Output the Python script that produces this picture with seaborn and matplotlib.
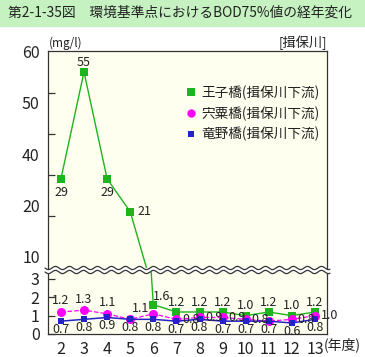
import numpy as np
import pandas as pd
import matplotlib
matplotlib.use("Agg")
import matplotlib.pyplot as plt
import seaborn as sns
from matplotlib.lines import Line2D
from matplotlib.patches import Polygon

# Data
years = [2, 3, 4, 5, 6, 7, 8, 9, 10, 11, 12, 13]
oji = [29, 55, 29, 21, 1.6, 1.2, 1.2, 1.2, 1.0, 1.2, 1.0, 1.2]
shiso = [1.2, 1.3, 1.1, 0.8, 1.1, 0.8, 0.9, 0.9, 0.8, 0.7, 0.8, 1.0]
tatsuno = [0.7, 0.8, 0.9, 0.8, 0.8, 0.7, 0.8, 0.7, 0.7, 0.7, 0.6, 0.8]
series_names = ["王子橋(揖保川下流)", "宍粟橋(揖保川下流)", "竜野橋(揖保川下流)"]
upper_ticklabels = ["10", "20", "40", "50", "60"]

sns.set_theme(style="white")
plt.rcParams['font.family'] = ['Noto Sans CJK JP', 'DejaVu Sans']
jp = ['Noto Sans CJK JP', 'DejaVu Sans']

df = pd.DataFrame({"year": years, "oji": oji, "shiso": shiso, "tatsuno": tatsuno})

W, H = 365, 357
fig = plt.figure(figsize=(W / 100, H / 100), dpi=100)

def fx(px):
    return px / W

def fy(py):
    return 1 - py / H

# title band
fig.patches.append(plt.Rectangle((0, fy(26)), 1, 1 - fy(26), transform=fig.transFigure,
                                 color='#c6f2c2', zorder=0))
title = fig.text(fx(8), fy(13), "第2-1-35図　環境基準点におけるBOD75%値の経年変化",
                 family=jp, fontsize=10, va='center', ha='left', color='#222222')
# scale title so it spans roughly x=8..352 like the source
renderer = fig.canvas.get_renderer()
tw = title.get_window_extent(renderer).width
title.set_fontsize(10 * 344 / tw)

left, right = 48, 327
ax_top = fig.add_axes([fx(left), fy(268), fx(right - left), fy(51) - fy(268)])
ax_bot = fig.add_axes([fx(left), fy(334), fx(right - left), fy(272) - fy(334)])

bg = '#fffff0'
green = '#1eb41e'
magenta = '#ff00ff'
blue = '#2323c8'

for ax in (ax_top, ax_bot):
    ax.set_facecolor(bg)
    sns.lineplot(data=df, x="year", y="oji", ax=ax, color=green, marker='s',
                 markersize=6, markeredgewidth=0, linewidth=1.0, zorder=3)
    sns.lineplot(data=df, x="year", y="shiso", ax=ax, color=magenta, marker='o',
                 markersize=6.5, markeredgewidth=0, linewidth=0.9, linestyle='--', zorder=4)
    sns.lineplot(data=df, x="year", y="tatsuno", ax=ax, color=blue, marker='s',
                 markersize=4.5, markeredgewidth=0, linewidth=1.1, zorder=5)
    ax.set_xlim(1.44, 13.52)
    ax.set_xlabel("")
    ax.set_ylabel("")
    for s in ax.spines.values():
        s.set_color('#333333')
        s.set_linewidth(0.9)

ax_top.set_ylim(7.3, 60.1)
ax_bot.set_ylim(0, 3.38)
ax_top.spines['bottom'].set_visible(False)
ax_bot.spines['top'].set_visible(False)
ax_top.set_xticks([])

# upper axis: tick marks at every 10, labels spaced as in the source
ax_top.set_yticks([10, 20, 30, 40, 50, 60], minor=True)
ax_top.tick_params(axis='y', which='minor', direction='in', length=5, width=0.9, color='#333333', left=True)
ax_top.set_yticks([10, 22.5, 35, 47.5, 60], labels=upper_ticklabels)
ax_top.tick_params(axis='y', which='major', length=0, pad=6, labelsize=11.5, labelcolor='#222222')

ax_bot.set_yticks([0, 1, 2, 3])
ax_bot.set_yticklabels(["0", "1", "2", "3"])
ax_bot.tick_params(axis='y', direction='in', length=5, width=0.9, color='#333333', left=True,
                   pad=6, labelsize=11.5, labelcolor='#222222')
ax_bot.set_xticks(years)
ax_bot.tick_params(axis='x', length=0, pad=5, labelsize=11.5, labelcolor='#222222')

# point labels (offsets in points)
lab_kw = dict(fontsize=9, color='#222222', textcoords='offset points', zorder=6)
green_off = [(0, -10), (0, 7), (0, -10), (5, 0), (0, 6)] + [(0, 7)] * 7
green_ha = ['center', 'center', 'center', 'left', 'left'] + ['center'] * 7
for x, y, (dx, dy), ha in zip(years, oji, green_off, green_ha):
    ax = ax_top if y > 5 else ax_bot
    ax.annotate(f"{y:g}" if y >= 10 else f"{y:.1f}", (x, y), xytext=(dx, dy),
                ha=ha, va='center', **lab_kw)
mag_off = [(0, 8), (0, 8), (0, 8), None, (-3, 4), (4, 0), (4, 0), (4, 0), (4, 0), None, (4, 0), (4, 0)]
for x, y, off in zip(years, shiso, mag_off):
    if off is None:
        continue
    dx, dy = off
    ax_bot.annotate(f"{y:.1f}", (x, y), xytext=(dx, dy),
                    ha='center' if dx == 0 else ('left' if dx > 0 else 'right'),
                    va='center', **lab_kw)
for x, y in zip(years, tatsuno):
    ax_bot.annotate(f"{y:.1f}", (x, y), xytext=(0, -6), ha='center', va='center', **lab_kw)

# axis break: white band between two wavy lines
xs = np.linspace(45, 330, 400)
wave = 1.6 * np.sin(2 * np.pi * (xs - 45) / 14)
y1 = 268 + wave
y2 = 272 + wave
poly = np.vstack([np.column_stack([fx(xs), fy(y1)]),
                  np.column_stack([fx(xs[::-1]), fy(y2[::-1])])])
fig.patches.append(Polygon(poly, closed=True, transform=fig.transFigure,
                           facecolor='white', edgecolor='none', zorder=10))
fig.lines.append(Line2D(fx(xs), fy(y1), transform=fig.transFigure, color='#333333', lw=0.9, zorder=11))
fig.lines.append(Line2D(fx(xs), fy(y2), transform=fig.transFigure, color='#333333', lw=0.9, zorder=11))

# legend
handles = [
    Line2D([], [], color=green, marker='s', linestyle='none', markersize=6, markeredgewidth=0),
    Line2D([], [], color=magenta, marker='o', linestyle='none', markersize=6, markeredgewidth=0),
    Line2D([], [], color=blue, marker='s', linestyle='none', markersize=4, markeredgewidth=0),
]
leg = ax_top.legend(handles, series_names, loc='upper left',
                    bbox_to_anchor=((181 - left) / (right - left), (51 - 80) / (268 - 51) + 1),
                    frameon=False, prop={'family': jp, 'size': 9.8}, handlelength=0.6,
                    handletextpad=0.5, labelspacing=0.45, borderaxespad=0)
for t in leg.get_texts():
    t.set_color('#222222')

fig.text(fx(49), fy(43), "(mg/l)", family=jp, fontsize=8.5, va='center', ha='left', color='#222222')
fig.text(fx(327), fy(43), "[揖保川]", family=jp, fontsize=9.5, va='center', ha='right', color='#222222')
fig.text(fx(324), fy(345), "(年度)", family=jp, fontsize=10, va='center', ha='left', color='#222222')

fig.savefig("out.png", dpi=100)
